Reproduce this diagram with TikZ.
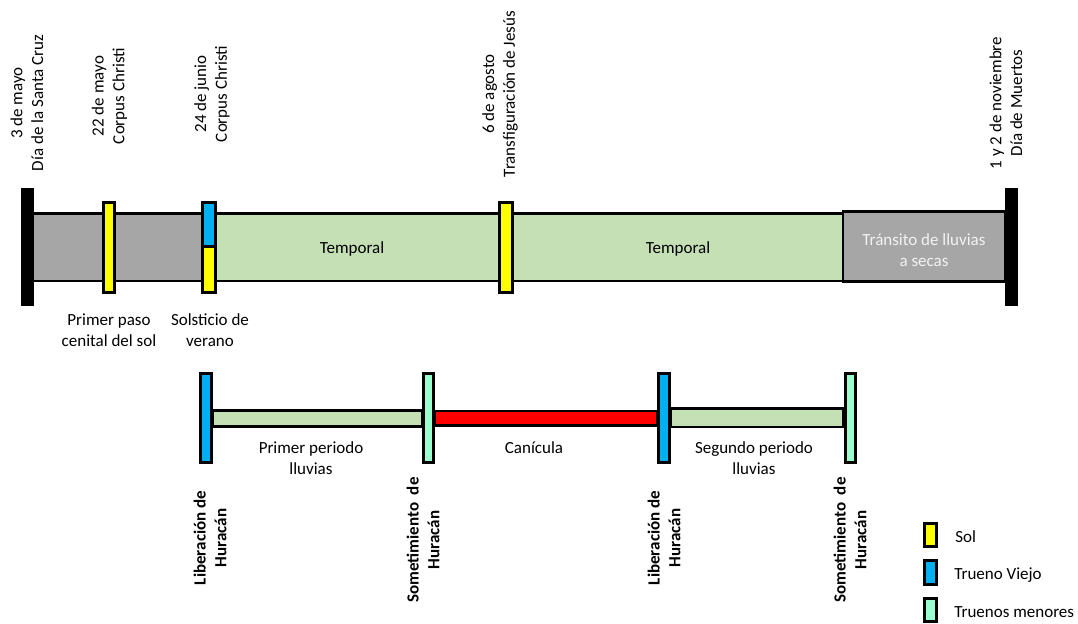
\documentclass[tikz,border=0pt]{standalone}
\usepackage{fontspec}
\setmainfont{Carlito}
\definecolor{gris}{HTML}{A6A6A6}
\definecolor{verde}{HTML}{C5E0B4}
\definecolor{sol}{HTML}{FFFF00}
\definecolor{viejo}{HTML}{00B0F0}
\definecolor{menor}{HTML}{99FFCC}
\definecolor{claro}{HTML}{F2F2F2}

\begin{document}
\begin{tikzpicture}[x=0.5pt, y=-0.5pt,
  barra/.style={draw=black, line width=1.3pt},
  marca/.style={draw=black, line width=1.5pt},
  texto/.style={align=center, inner sep=0pt, font=\fontsize{8.5}{10.4}\selectfont},
  fecha/.style={texto, rotate=90},
  huracan/.style={fecha, font=\fontsize{8.5}{10.4}\selectfont\bfseries}]
  \useasboundingbox (0,0) rectangle (1078,624);

  % barra de arriba
  \filldraw[barra, fill=gris]  (33,213.5) rectangle (202,281);
  \filldraw[barra, fill=verde] (215.5,213.5) rectangle (843,281);
  \filldraw[barra, fill=gris]  (843,211.5) rectangle (1005,281.5);
  \fill (20.5,188) rectangle (33.5,306);
  \fill (1005,188) rectangle (1017.5,306);
  \filldraw[marca, fill=sol]   (103,202.5) rectangle (114.5,292.5);
  \filldraw[marca, fill=viejo] (202,202.5) rectangle (215.5,246.5);
  \filldraw[marca, fill=sol]   (202,246.5) rectangle (215.5,292.5);
  \filldraw[marca, fill=sol]   (499,202.5) rectangle (512,292.5);

  \node[texto] (temporal1) at (352,249) {Temporal};
  \node[texto] (temporal2) at (678,249) {Temporal};
  \node[texto, text=claro] (transito) at (924,250) {Tránsito de lluvias\\a secas};

  \node[fecha] (santacruz) at (27,103)   {3 de mayo\\Día de la Santa Cruz};
  \node[fecha] (corpus1)   at (109.5,96) {22 de mayo\\Corpus Christi};
  \node[fecha] (corpus2)   at (212,94)   {24 de junio\\Corpus Christi};
  \node[fecha] (agosto)    at (500,94)   {6 de agosto\\Transfiguración de Jesús};
  \node[fecha] (muertos)   at (1006,103) {1 y 2 de noviembre\\Día de Muertos};

  \node[texto] (paso)      at (109,330) {Primer paso\\cenital del sol};
  \node[texto] (solsticio) at (210,330) {Solsticio de\\verano};

  % barra de abajo
  \filldraw[barra, fill=verde] (213,410.5) rectangle (422,426.5);
  \filldraw[barra, fill=red]   (435,411) rectangle (657,425.5);
  \filldraw[barra, fill=verde] (671,408.5) rectangle (843,427);
  \filldraw[marca, fill=viejo] (200.5,373.5) rectangle (211.5,462.5);
  \filldraw[marca, fill=menor] (423.5,373.5) rectangle (433.5,462.5);
  \filldraw[marca, fill=viejo] (658.5,373.5) rectangle (669.5,462.5);
  \filldraw[marca, fill=menor] (845,373.5) rectangle (855.5,462.5);

  \node[texto] (periodo1) at (311,458) {Primer periodo\\lluvias};
  \node[texto] (canicula) at (534,448) {Canícula};
  \node[texto] (periodo2) at (754,458) {Segundo periodo\\lluvias};

  \node[huracan] (lib1) at (210,538) {Liberación de\\Huracán};
  \node[huracan] (som1) at (423,540) {Sometimiento\ \ de\\Huracán};
  \node[huracan] (lib2) at (664,538) {Liberación de\\Huracán};
  \node[huracan] (som2) at (850,540) {Sometimiento\ \ de\\Huracán};

  % leyenda
  \filldraw[marca, fill=sol]   (924.5,523.5) rectangle (936.5,546.5);
  \filldraw[marca, fill=viejo] (924.5,560.5) rectangle (936.5,584.5);
  \filldraw[marca, fill=menor] (924.5,598.5) rectangle (936.5,621.5);
  \node[texto, anchor=west] (leysol)    at (955,537) {Sol};
  \node[texto, anchor=west] (leyviejo)  at (954,575) {Trueno Viejo};
  \node[texto, anchor=west] (leymenor)  at (954,612) {Truenos menores};
\end{tikzpicture}
\end{document}
